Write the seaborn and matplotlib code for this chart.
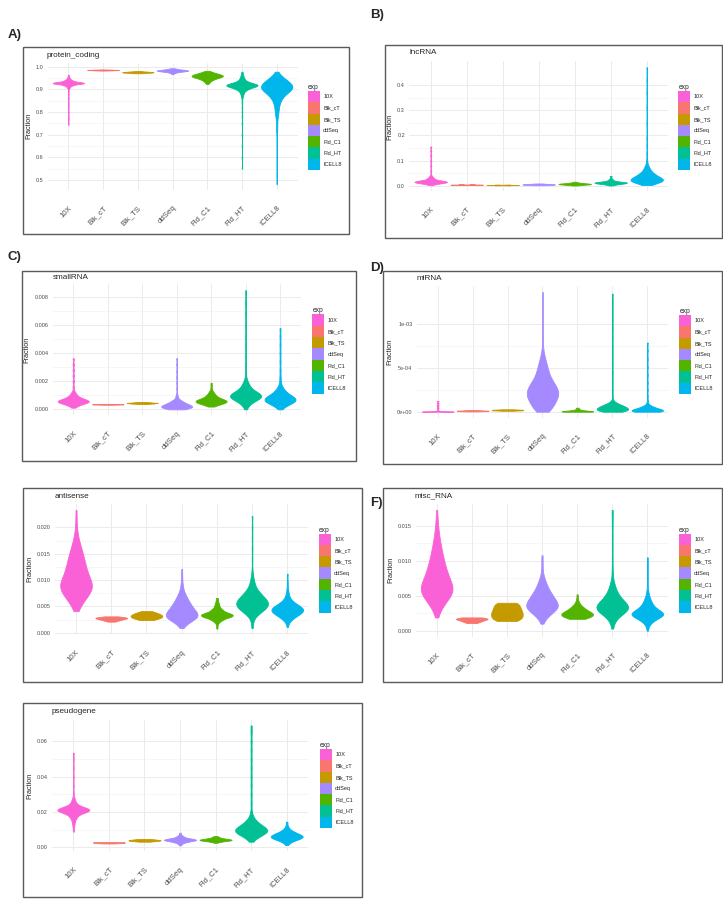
import numpy as np
import pandas as pd
import matplotlib.pyplot as plt
from matplotlib.patches import Patch, Rectangle
import seaborn as sns

W, H = 723, 899

exp_order = ["10X", "Blk_cT", "Blk_TS", "ddSeq", "Fld_C1", "Fld_HT", "ICELL8"]
exp_colors = ["#FB61D7", "#F8766D", "#C49A00", "#A58AFF", "#53B400", "#00C094", "#00B6EB"]

# each violin is given as (fraction, weight) pairs
protein_coding = {
    "10X": [(0.745, 1), (0.77, 1), (0.80, 1), (0.83, 1), (0.86, 1), (0.88, 1), (0.895, 1), (0.905, 2),
            (0.910, 3), (0.915, 5), (0.920, 10), (0.925, 22), (0.929, 24), (0.933, 16), (0.938, 9),
            (0.943, 5), (0.948, 3), (0.953, 2), (0.958, 1), (0.964, 1)],
    "Blk_cT": [(0.983, 2), (0.984, 6), (0.985, 10), (0.986, 10), (0.987, 6), (0.988, 2)],
    "Blk_TS": [(0.971, 2), (0.973, 6), (0.975, 10), (0.977, 8), (0.979, 4), (0.981, 1)],
    "ddSeq": [(0.968, 1), (0.972, 2), (0.976, 4), (0.979, 7), (0.982, 12), (0.985, 10), (0.988, 5),
              (0.991, 2), (0.993, 1)],
    "Fld_C1": [(0.924, 1), (0.930, 2), (0.936, 3), (0.942, 5), (0.948, 8), (0.954, 12), (0.959, 14),
               (0.964, 12), (0.969, 8), (0.974, 5), (0.978, 2), (0.982, 1)],
    "Fld_HT": [(0.551, 1), (0.60, 1), (0.65, 1), (0.70, 1), (0.75, 1), (0.78, 1), (0.80, 1), (0.82, 1),
               (0.84, 1), (0.855, 1), (0.868, 2), (0.878, 3), (0.888, 5), (0.898, 9), (0.906, 14),
               (0.913, 20), (0.919, 24), (0.925, 18), (0.932, 11), (0.940, 6), (0.948, 4), (0.956, 3),
               (0.964, 2), (0.972, 1), (0.978, 1)],
    "ICELL8": [(0.483, 1), (0.53, 1), (0.58, 1), (0.63, 1), (0.68, 1), (0.72, 2), (0.75, 2), (0.78, 3),
               (0.80, 4), (0.82, 5), (0.84, 7), (0.86, 10), (0.875, 13), (0.89, 17), (0.90, 19),
               (0.91, 20), (0.92, 19), (0.93, 16), (0.94, 12), (0.95, 8), (0.96, 5), (0.97, 2), (0.978, 1)],
}

lncRNA = {
    "10X": [(0.003, 1), (0.007, 4), (0.011, 10), (0.015, 16), (0.019, 14), (0.023, 8), (0.028, 5),
            (0.033, 3), (0.038, 2), (0.045, 1), (0.06, 1), (0.08, 1), (0.10, 1), (0.12, 1), (0.14, 1),
            (0.156, 1)],
    "Blk_cT": [(0.004, 3), (0.005, 6), (0.006, 3)],
    "Blk_TS": [(0.003, 3), (0.004, 6), (0.005, 3)],
    "ddSeq": [(0.003, 2), (0.0045, 5), (0.006, 8), (0.0075, 5), (0.009, 2), (0.010, 1)],
    "Fld_C1": [(0.002, 1), (0.004, 3), (0.006, 7), (0.008, 10), (0.010, 7), (0.012, 3), (0.014, 2),
               (0.017, 1)],
    "Fld_HT": [(0.002, 1), (0.005, 2), (0.008, 5), (0.011, 9), (0.014, 10), (0.017, 6), (0.021, 3),
               (0.026, 2), (0.032, 1), (0.040, 1)],
    "ICELL8": [(0.004, 2), (0.010, 6), (0.016, 12), (0.022, 16), (0.028, 14), (0.035, 11), (0.042, 9),
               (0.050, 8), (0.060, 5), (0.070, 4), (0.080, 2), (0.092, 1), (0.105, 1), (0.13, 1),
               (0.16, 1), (0.19, 1), (0.25, 1), (0.31, 1), (0.37, 1), (0.42, 1), (0.47, 1)],
}

smallRNA = {
    "10X": [(0.00012, 1), (0.00025, 3), (0.00040, 8), (0.00055, 14), (0.00070, 10), (0.00085, 5),
            (0.0010, 3), (0.00115, 2), (0.0013, 1), (0.0016, 1), (0.0020, 1), (0.0024, 1), (0.0028, 1),
            (0.0032, 1), (0.00364, 1)],
    "Blk_cT": [(0.00033, 2), (0.00035, 6), (0.00037, 6), (0.00039, 2)],
    "Blk_TS": [(0.00038, 2), (0.00042, 6), (0.00046, 8), (0.00050, 4), (0.00053, 1)],
    "ddSeq": [(0.0, 6), (0.0001, 12), (0.0002, 14), (0.0003, 11), (0.0004, 8), (0.0005, 6), (0.0006, 4),
              (0.0007, 3), (0.0009, 2), (0.0011, 1), (0.0015, 1), (0.0019, 1), (0.0023, 1), (0.0027, 1),
              (0.0032, 1), (0.00365, 1)],
    "Fld_C1": [(0.0002, 2), (0.0003, 5), (0.0004, 9), (0.0005, 13), (0.0006, 14), (0.0007, 11),
               (0.0008, 7), (0.0009, 5), (0.0010, 4), (0.0011, 3), (0.0012, 2), (0.0013, 2), (0.0015, 1),
               (0.0017, 1), (0.0019, 1)],
    "Fld_HT": [(0.0, 1), (0.0002, 2), (0.0004, 4), (0.0006, 8), (0.0008, 14), (0.0010, 16), (0.0012, 11),
               (0.0014, 6), (0.0016, 4), (0.0018, 3), (0.0020, 2), (0.0023, 1), (0.0027, 1), (0.0032, 1),
               (0.0038, 1), (0.0045, 1), (0.0052, 1), (0.0060, 1), (0.0068, 1), (0.0076, 1), (0.0085, 1)],
    "ICELL8": [(0.0, 1), (0.0002, 3), (0.0004, 8), (0.0006, 14), (0.0008, 13), (0.0010, 8), (0.0012, 5),
               (0.0014, 3), (0.0016, 2), (0.0019, 1), (0.0023, 1), (0.0028, 1), (0.0034, 1), (0.0040, 1),
               (0.0046, 1), (0.0052, 1), (0.0058, 1)],
}

miRNA = {
    "10X": [(0.0, 8), (0.000002, 10), (0.000004, 6), (0.000008, 2), (0.00002, 1), (0.00004, 1),
            (0.00006, 1), (0.00008, 1), (0.0001, 1), (0.000122, 1)],
    "Blk_cT": [(0.000004, 2), (0.000008, 6), (0.000012, 6), (0.000016, 3), (0.000019, 1)],
    "Blk_TS": [(0.000011, 2), (0.000016, 6), (0.000021, 6), (0.000025, 3), (0.000028, 1)],
    "ddSeq": [(0.0, 10), (0.00003, 11), (0.00006, 12), (0.00009, 14), (0.00012, 15), (0.00015, 17),
              (0.00018, 19), (0.00021, 20), (0.00024, 19), (0.00027, 17), (0.0003, 15), (0.00033, 14),
              (0.00036, 13), (0.0004, 11), (0.00044, 10), (0.00048, 9), (0.00052, 7), (0.00056, 6),
              (0.0006, 5), (0.00065, 3), (0.0007, 2), (0.00076, 1), (0.00085, 1), (0.00095, 1),
              (0.00105, 1), (0.00115, 1), (0.00126, 1), (0.00137, 1)],
    "Fld_C1": [(0.0, 12), (0.000006, 10), (0.000012, 7), (0.00002, 4), (0.00003, 2), (0.00004, 1),
               (0.000046, 1)],
    "Fld_HT": [(0.0, 8), (0.00001, 12), (0.00002, 13), (0.00003, 12), (0.00004, 11), (0.00005, 10),
               (0.00006, 9), (0.00007, 8), (0.00008, 6), (0.00009, 4), (0.0001, 3), (0.00011, 2),
               (0.00012, 1), (0.00014, 1), (0.00018, 1), (0.00025, 1), (0.00035, 1), (0.00045, 1),
               (0.00055, 1), (0.00065, 1), (0.00075, 1), (0.00085, 1), (0.00095, 1), (0.00105, 1),
               (0.00115, 1), (0.00125, 1), (0.00135, 1)],
    "ICELL8": [(0.0, 10), (0.00001, 12), (0.00002, 9), (0.00003, 7), (0.00004, 5), (0.00005, 4),
               (0.00006, 3), (0.00007, 2), (0.00008, 1), (0.0001, 1), (0.00013, 1), (0.00018, 1),
               (0.00025, 1), (0.00033, 1), (0.00042, 1), (0.00051, 1), (0.0006, 1), (0.0007, 1),
               (0.00079, 1)],
}

antisense = {
    "10X": [(0.0041, 1), (0.005, 4), (0.006, 9), (0.007, 13), (0.008, 17), (0.0088, 18), (0.0095, 16),
            (0.0105, 14), (0.0115, 13), (0.0125, 11), (0.0135, 10), (0.0145, 9), (0.0155, 7),
            (0.0165, 5), (0.0176, 4), (0.019, 2), (0.0205, 1), (0.022, 1), (0.0233, 1)],
    "Blk_cT": [(0.0021, 2), (0.0023, 4), (0.0025, 6), (0.0027, 9), (0.0029, 10), (0.0031, 3)],
    "Blk_TS": [(0.0024, 4), (0.0027, 8), (0.003, 10), (0.0033, 10), (0.0036, 8), (0.0039, 5), (0.0041, 2)],
    "ddSeq": [(0.0009, 1), (0.0015, 4), (0.0022, 10), (0.0028, 17), (0.0033, 18), (0.0039, 16),
              (0.0045, 14), (0.0052, 11), (0.0058, 9), (0.0065, 7), (0.0072, 5), (0.008, 3), (0.009, 2),
              (0.010, 1), (0.011, 1), (0.0121, 1)],
    "Fld_C1": [(0.0008, 1), (0.0014, 1), (0.002, 3), (0.0025, 8), (0.003, 16), (0.0034, 18),
               (0.0038, 12), (0.0043, 8), (0.0048, 4), (0.0053, 3), (0.0058, 2), (0.0063, 1), (0.0066, 1)],
    "Fld_HT": [(0.0009, 1), (0.0015, 1), (0.0022, 1), (0.0028, 2), (0.0034, 5), (0.004, 10), (0.0046, 15),
               (0.0052, 18), (0.0058, 18), (0.0064, 15), (0.007, 11), (0.0076, 8), (0.0082, 6),
               (0.009, 4), (0.0098, 3), (0.0107, 2), (0.012, 1), (0.014, 1), (0.016, 1), (0.018, 1),
               (0.020, 1), (0.0222, 1)],
    "ICELL8": [(0.0011, 1), (0.0017, 1), (0.0022, 3), (0.0027, 6), (0.0032, 10), (0.0037, 15),
               (0.0042, 18), (0.0047, 17), (0.0052, 12), (0.0057, 8), (0.0063, 5), (0.007, 3),
               (0.0078, 2), (0.0087, 1), (0.0097, 1), (0.0112, 1)],
}

misc_RNA = {
    "10X": [(0.0019, 1), (0.0025, 2), (0.0031, 4), (0.0037, 7), (0.0043, 10), (0.0049, 14), (0.0055, 18),
            (0.006, 18), (0.0066, 15), (0.0072, 14), (0.0078, 13), (0.0085, 12), (0.0092, 11),
            (0.01, 10), (0.0108, 9), (0.0117, 7), (0.0126, 6), (0.0135, 4), (0.0145, 3), (0.0155, 2),
            (0.0165, 1), (0.0173, 1)],
    "Blk_cT": [(0.0011, 3), (0.0013, 5), (0.0015, 7), (0.0017, 10), (0.0019, 6)],
    "Blk_TS": [(0.0014, 8), (0.0018, 10), (0.0022, 10), (0.0026, 10), (0.003, 9), (0.0034, 8),
               (0.0038, 7), (0.004, 5)],
    "ddSeq": [(0.001, 1), (0.0016, 3), (0.0022, 7), (0.0028, 13), (0.0034, 18), (0.004, 16), (0.0046, 13),
              (0.0052, 10), (0.0058, 8), (0.0065, 6), (0.0072, 4), (0.008, 2), (0.009, 1), (0.0099, 1),
              (0.0108, 1)],
    "Fld_C1": [(0.0017, 8), (0.002, 14), (0.0023, 18), (0.0026, 14), (0.0029, 10), (0.0032, 7),
               (0.0035, 5), (0.0038, 3), (0.0042, 2), (0.0047, 1), (0.0052, 1)],
    "Fld_HT": [(0.0003, 1), (0.0008, 1), (0.0013, 2), (0.0018, 4), (0.0023, 8), (0.0028, 14), (0.0033, 18),
               (0.0038, 14), (0.0043, 10), (0.0048, 7), (0.0053, 5), (0.0058, 4), (0.0064, 3), (0.007, 2),
               (0.008, 1), (0.009, 1), (0.0105, 1), (0.012, 1), (0.0135, 1), (0.015, 1), (0.0163, 1),
               (0.0173, 1)],
    "ICELL8": [(0.0, 1), (0.0005, 1), (0.001, 3), (0.0015, 8), (0.002, 15), (0.0024, 18), (0.0028, 14),
               (0.0033, 9), (0.0038, 6), (0.0043, 4), (0.0048, 3), (0.0055, 2), (0.0065, 1), (0.0075, 1),
               (0.0085, 1), (0.0095, 1), (0.0105, 1)],
}

pseudogene = {
    "10X": [(0.0089, 1), (0.011, 1), (0.013, 2), (0.015, 3), (0.017, 6), (0.019, 11), (0.0205, 18),
            (0.0215, 18), (0.0225, 12), (0.024, 7), (0.026, 4), (0.028, 2), (0.031, 1), (0.035, 1),
            (0.04, 1), (0.045, 1), (0.05, 1), (0.0536, 1)],
    "Blk_cT": [(0.0022, 2), (0.0025, 6), (0.0028, 6), (0.003, 2)],
    "Blk_TS": [(0.0032, 2), (0.0036, 6), (0.004, 8), (0.0044, 5), (0.0047, 2)],
    "ddSeq": [(0.0011, 1), (0.002, 3), (0.003, 8), (0.0038, 14), (0.0044, 14), (0.005, 10), (0.0058, 5),
              (0.0066, 3), (0.0075, 1), (0.0083, 1)],
    "Fld_C1": [(0.0026, 1), (0.0032, 4), (0.0038, 10), (0.0043, 12), (0.0048, 8), (0.0054, 4),
               (0.006, 2), (0.0064, 1)],
    "Fld_HT": [(0.0032, 1), (0.005, 3), (0.007, 9), (0.009, 16), (0.011, 13), (0.013, 7), (0.015, 4),
               (0.017, 2), (0.02, 1), (0.025, 1), (0.03, 1), (0.035, 1), (0.04, 1), (0.045, 1), (0.05, 1),
               (0.055, 1), (0.06, 1), (0.065, 1), (0.069, 1)],
    "ICELL8": [(0.0013, 1), (0.003, 3), (0.0045, 9), (0.006, 15), (0.0075, 10), (0.009, 5), (0.0105, 2),
               (0.012, 1), (0.0145, 1)],
}

ticks_pc = [0.5, 0.6, 0.7, 0.8, 0.9, 1.0]
labels_pc = ["0.5", "0.6", "0.7", "0.8", "0.9", "1.0"]
ticks_lnc = [0.0, 0.1, 0.2, 0.3, 0.4]
labels_lnc = ["0.0", "0.1", "0.2", "0.3", "0.4"]
ticks_small = [0.0, 0.002, 0.004, 0.006, 0.008]
labels_small = ["0.000", "0.002", "0.004", "0.006", "0.008"]
ticks_mi = [0.0, 0.0005, 0.001]
labels_mi = ["0e+00", "5e-04", "1e-03"]
ticks_anti = [0.0, 0.005, 0.010, 0.015, 0.020]
labels_anti = ["0.000", "0.005", "0.010", "0.015", "0.020"]
ticks_misc = [0.0, 0.005, 0.010, 0.015]
labels_misc = ["0.000", "0.005", "0.010", "0.015"]
ticks_pseudo = [0.0, 0.02, 0.04, 0.06]
labels_pseudo = ["0.00", "0.02", "0.04", "0.06"]

# layout in pixels: box (l, t, r, b), axes (l, t, r, b), title (x, y), legend (x, y), letter
panels = [
    dict(name="protein_coding", data=protein_coding, ticks=ticks_pc, labels=labels_pc,
         box=(23, 47, 349, 234), axes=(47.5, 62.5, 297.5, 189.8), title=(47, 55.3),
         legend=(308, 84), letter=("A)", 8, 35)),
    dict(name="lncRNA", data=lncRNA, ticks=ticks_lnc, labels=labels_lnc,
         box=(385, 45, 722, 238), axes=(409.1, 61.4, 668.3, 191.4), title=(409, 53),
         legend=(678.3, 84), letter=("B)", 370, 15)),
    dict(name="smallRNA", data=smallRNA, ticks=ticks_small, labels=labels_small,
         box=(22, 271, 356, 461), axes=(52.6, 284.4, 300.7, 415.3), title=(53, 277),
         legend=(312.3, 307.5), letter=("C)", 8, 257)),
    dict(name="miRNA", data=miRNA, ticks=ticks_mi, labels=labels_mi,
         box=(383, 271, 722, 464), axes=(416.7, 286, 668.3, 417.7), title=(416.7, 278),
         legend=(679.3, 308), letter=("D)", 370, 268)),
    dict(name="antisense", data=antisense, ticks=ticks_anti, labels=labels_anti,
         box=(23, 488, 362, 682), axes=(54.9, 504.2, 308.4, 634.4), title=(55, 496),
         legend=(319, 526.5), letter=None),
    dict(name="misc_RNA", data=misc_RNA, ticks=ticks_misc, labels=labels_misc,
         box=(383, 488, 722, 682), axes=(415.6, 503.9, 668.4, 636.7), title=(415, 496),
         legend=(679, 526.5), letter=("F)", 370, 503)),
    dict(name="pseudogene", data=pseudogene, ticks=ticks_pseudo, labels=labels_pseudo,
         box=(23, 703, 362, 897), axes=(52, 719.5, 308, 851.4), title=(52, 711.7),
         legend=(320, 742), letter=None),
]


def nrd0(kde):
    # R's default bandwidth (bw.nrd0), as used by ggplot's violins
    x = kde.dataset[0]
    sd = x.std(ddof=1)
    q75, q25 = np.percentile(x, [75, 25])
    lo = min(sd, (q75 - q25) / 1.34)
    if lo <= 0:
        lo = sd
    return 0.9 * lo * len(x) ** -0.2 / sd


def to_frame(groups):
    parts = []
    for name in exp_order:
        vals, counts = zip(*groups[name])
        parts.append(pd.DataFrame({"exp": name, "Fraction": np.repeat(vals, counts)}))
    return pd.concat(parts, ignore_index=True)


def fx(x):
    return x / W


def fy(y):
    return 1 - y / H


sns.set_style("white")
plt.rcParams["font.family"] = ["Liberation Sans", "DejaVu Sans"]

fig = plt.figure(figsize=(W / 100, H / 100), dpi=100)
palette = dict(zip(exp_order, exp_colors))

for p in panels:
    l, t, r, b = p["axes"]
    ax = fig.add_axes([fx(l), fy(b), (r - l) / W, (b - t) / H])
    df = to_frame(p["data"])

    sns.violinplot(data=df, x="exp", y="Fraction", hue="exp", order=exp_order, hue_order=exp_order,
                   palette=palette, density_norm="width", cut=0, inner=None, width=0.9,
                   saturation=1, linewidth=0.6, bw_method=nrd0, bw_adjust=1.2, gridsize=500,
                   legend=False, ax=ax)
    for coll in ax.collections:
        coll.set_edgecolor(coll.get_facecolor())

    lo, hi = df["Fraction"].min(), df["Fraction"].max()
    pad = (hi - lo) * 0.05
    ax.set_ylim(lo - pad, hi + pad)
    ax.set_xlim(-0.6, 6.6)

    ticks = p["ticks"]
    ax.set_yticks(ticks)
    ax.set_yticklabels(p["labels"])
    ax.set_yticks([(a + c) / 2 for a, c in zip(ticks[:-1], ticks[1:])], minor=True)
    ax.set_xticks(range(len(exp_order)))
    ax.set_xticklabels(exp_order, rotation=45, ha="right", va="top", rotation_mode="anchor")

    ax.grid(which="major", color="#EBEBEB", linewidth=0.7)
    ax.grid(which="minor", axis="y", color="#F1F1F1", linewidth=0.45)
    ax.set_axisbelow(True)
    for s in ax.spines.values():
        s.set_visible(False)
    ax.tick_params(axis="y", which="both", length=0, pad=3, labelsize=4, labelcolor="#4D4D4D")
    ax.tick_params(axis="x", which="both", length=0, pad=10.5, labelsize=5.6, labelcolor="#4D4D4D")
    ax.set_xlabel("")
    ax.set_ylabel("Fraction", fontsize=5.2, labelpad=2.5)

    tx, ty = p["title"]
    fig.text(fx(tx), fy(ty), p["name"], fontsize=5.9, ha="left", va="center")

    handles = [Patch(facecolor=c, edgecolor="none") for c in exp_colors]
    lx, ly = p["legend"]
    fig.legend(handles, exp_order, title="exp", loc="upper left", bbox_to_anchor=(fx(lx), fy(ly)),
               frameon=False, fontsize=4, title_fontsize=4.8, handlelength=2.07, handleheight=2.75,
               labelspacing=0, handletextpad=0.65, borderpad=0, borderaxespad=0, alignment="left")

    bl, bt, br, bb = p["box"]
    fig.add_artist(Rectangle((fx(bl), fy(bb)), (br - bl) / W, (bb - bt) / H, transform=fig.transFigure,
                             fill=False, edgecolor="#5A5A5A", linewidth=1.0))

    if p["letter"]:
        txt, x, y = p["letter"]
        fig.text(fx(x), fy(y), txt, fontsize=9.5, fontweight="bold", ha="left", va="center")

fig.savefig("out.png", dpi=100)
